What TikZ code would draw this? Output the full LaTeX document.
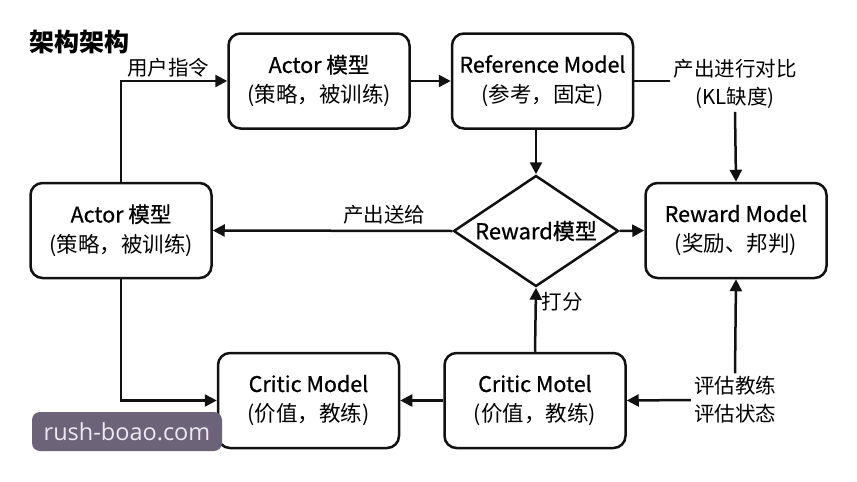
\documentclass[tikz,border=0pt]{standalone}
\usepackage{fontspec}
\setmainfont{Noto Sans CJK SC}
\newfontfamily\medfont{Noto Sans CJK SC}[FakeBold=0.7]
\newfontfamily\wmfont{Open Sans}
\usetikzlibrary{arrows.meta,shapes.geometric}
\definecolor{ink}{HTML}{111111}
\definecolor{wmbg}{HTML}{6D6379}
\definecolor{wmtx}{HTML}{EDE9F2}
\newcommand{\boxhead}[1]{{\medfont #1}}
\tikzset{
  box/.style={draw=ink, line width=2.5pt, rounded corners=12pt, minimum width=181pt, minimum height=95pt, align=center, inner sep=2pt, font=\fontsize{21.5}{30}\selectfont},
  dia/.style={draw=ink, line width=2.5pt, diamond, minimum width=165pt, minimum height=111pt, inner sep=0pt},
  dlbl/.style={font=\medfont\fontsize{22}{30}\selectfont},
  lbl/.style={align=center, inner sep=3pt, font=\fontsize{20.5}{28}\selectfont},
  arr/.style={draw=ink, line width=2.5pt, -{Triangle[length=12pt,width=12pt]}},
  ln/.style={draw=ink, line width=2.5pt},
}
\begin{document}
\begin{tikzpicture}[x=1pt,y=-1pt]
\path[use as bounding box, fill=white] (0,0) rectangle (857,482);
\node[font=\fontsize{25}{30}\selectfont\bfseries] (title) at (79,42) {架构架构};
\node[box] (actorT) at (319,81) {\boxhead{Actor 模型}\\(策略，被训练)};
\node[box] (ref) at (542.5,81) {\boxhead{Reference Model}\\(参考，固定)};
\node[box] (rm) at (736,230.5) {\boxhead{Reward Model}\\(奖励、邦判)};
\node[box] (actorL) at (121,230.5) {\boxhead{Actor 模型}\\(策略，被训练)};
\node[box] (cm) at (308.5,400.5) {\boxhead{Critic Model}\\(价值，教练)};
\node[box] (cmo) at (535,400.5) {\boxhead{Critic Motel}\\(价值，教练)};
\node[dia, label={[dlbl]center:Reward模型}] (dia) at (536,231) {};
\node[lbl] (kl) at (735,84) {产出进行对比\\(KL缺度)};
\node[lbl] (ev) at (735,400) {评估教练\\评估状态};
\node[lbl] (l1) at (168,68) {用户指令};
\node[lbl] (l2) at (384,215) {产出送给};
\node[lbl] (l3) at (562,302) {打分};
\draw[arr] (actorT.east) -- (ref.west);
\draw[arr] (dia.north |- ref.south) -- (dia.north);
\draw[arr] (dia.east) -- (rm.west);
\draw[arr] (dia.west) -- (actorL.east);
\draw[arr] (cmo.north) -- (dia.south);
\draw[arr] (cmo.west) -- (cm.east);
\draw[arr] (actorL.north) |- (actorT.west);
\draw[arr] (actorL.south) |- (cm.west);
\draw[ln] (ref.east) -- (ref.east -| kl.west);
\draw[arr] (kl.south) -- (rm.north);
\draw[arr] (ev.west) -- (cmo.east);
\draw[arr] (ev.north) -- (rm.south);
\node[fill=wmbg, rounded corners=8pt, minimum width=190pt, minimum height=39pt, inner sep=0pt] (wm) at (127,431.5) {};
\node[text=wmtx, font=\wmfont\fontsize{23.5}{28}\selectfont] (wmt) at (wm.center) {rush-boao.com};
\end{tikzpicture}
\end{document}
